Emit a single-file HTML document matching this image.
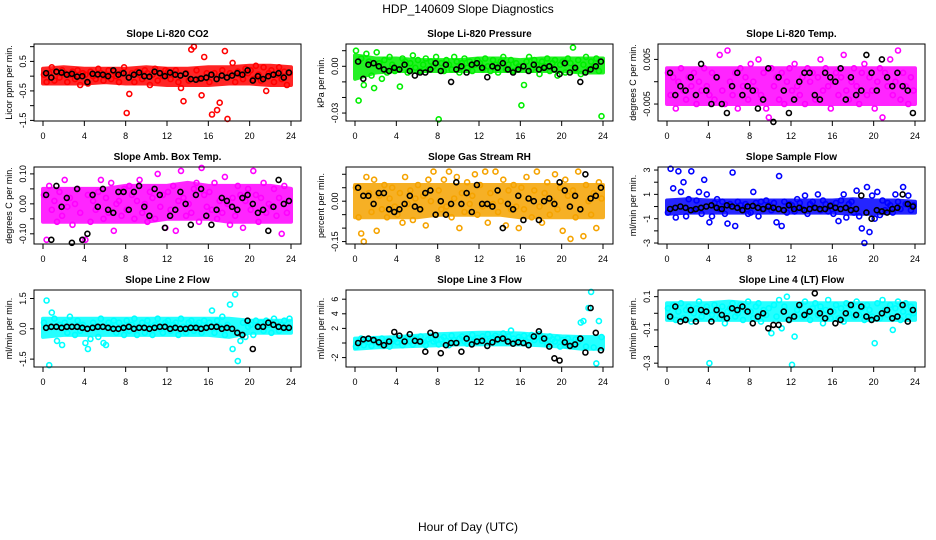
<!DOCTYPE html>
<html><head><meta charset="utf-8">
<style>
html,body{margin:0;padding:0;background:#fff;}
svg{display:block;font-family:"Liberation Sans",Arial,sans-serif;}
</style></head>
<body>
<svg id="chart" width="936" height="540" viewBox="0 0 936 540" xmlns="http://www.w3.org/2000/svg">
<text x="468" y="13" font-size="12" text-anchor="middle">HDP_140609  Slope Diagnostics</text>
<text x="468" y="531" font-size="12" text-anchor="middle">Hour of Day (UTC)</text>
</svg>
<script>
// ---- data (colored series sampled every 15 min, black every 30 min, dense band every 2 h) ----
const co2Vals = [0.05,-0.2,0.1,0.3,-0.15,0.12,-0.05,0.2,0.1,-0.2,0.05,0.15,-0.1,0.2,-0.3,0.1,0.05,-0.25,0.15,0.0,-0.1,0.25,0.1,-0.15,0.05,0.2,-0.1,0.15,0.0,-0.2,0.1,0.3,-1.25,-0.6,0.1,-0.2,0.15,0.05,-0.1,0.2,0.1,-0.3,0.05,0.25,-0.15,0.1,0.0,0.2,0.15,-0.1,0.05,0.2,-0.2,-0.4,-0.85,0.1,-0.15,0.9,1.0,0.2,-0.1,-0.65,0.65,0.1,-0.2,-1.3,0.1,-1.15,-0.9,0.2,0.85,-1.45,0.1,0.45,-0.2,0.15,0.05,-0.1,0.25,0.1,0.2,-0.1,0.35,0.05,-0.15,0.3,-0.5,0.1,0.2,-0.2,0.05,0.3,-0.1,0.15,-0.3,0.1];
const co2Black = [0.1,-0.05,0.15,0.12,0.05,0.08,-0.02,0.0,-0.2,0.08,0.06,0.05,0.0,0.2,0.05,0.1,-0.05,0.05,0.12,0.0,-0.02,0.15,0.1,0.0,0.12,0.05,0.02,0.08,-0.1,-0.12,-0.08,-0.05,0.05,-0.1,0.02,-0.05,0.02,0.1,0.05,0.2,-0.15,0.0,-0.1,0.0,0.05,0.1,-0.05,0.12];
const co2Lo = [-0.25,-0.25,-0.25,-0.2,-0.25,-0.25,-0.3,-0.3,-0.3,-0.25,-0.25,-0.3,-0.3];
const co2Hi = [0.25,0.3,0.25,0.25,0.25,0.3,0.25,0.25,0.3,0.3,0.35,0.35,0.3];
const pressMilli = [10,-22,5,-12,8,3,-6,-14,9,2,-8,4,-4,6,1,-3,-2,-13,5,3,-4,2,7,-1,4,-3,1,5,-2,3,0,6,-34,2,-3,4,1,-2,6,3,-4,2,5,-1,3,-3,1,4,2,-2,5,0,-3,4,1,-4,3,6,-2,1,4,-3,2,0,-25,-12,3,6,-2,4,1,-5,3,0,5,-3,2,4,-6,1,3,-4,5,2,12,-2,4,-5,1,6,-2,3,0,5,-3,-32];
const pressBlack = [3,-8,1,2,0,-2,-3,-1,-2,1,-3,-6,-4,-4,-2,2,-3,1,-10,-2,0,-4,1,2,-1,-7,0,-1,2,-2,-4,-2,0,-3,1,-2,-1,0,-2,-5,2,-4,-1,-10,-4,-2,0,3];
const pressLo = [-8,-4,-3,-3,-3,-3,-3,-3,-3,-3,-3,-4,-4];
const pressHi = [7,5,5,4,4,4,5,5,4,5,5,5,5];
const tempMilli = [2,-3,1,-6,0,3,-2,-4,1,-1,2,-5,0,-2,3,-1,-3,2,-4,1,6,-2,-5,7,0,-3,2,-6,3,-1,1,-4,4,0,-2,5,-3,2,-6,-8,3,-1,1,-4,2,-5,0,3,-2,4,-1,-3,1,-5,3,0,2,-4,1,5,-2,3,-1,-6,0,2,-3,1,6,-2,-4,0,3,-1,-5,2,4,-3,1,-2,-6,0,3,-8,2,-1,5,-3,0,7,-4,2,-1,-5,1,-2];
const tempBlack = [2,-3,-1,-2,1,-3,4,-2,-5,1,-5,-7,-1,2,-3,-1,-2,-6,-4,3,-9,1,-2,-7,-4,0,2,2,-3,-4,2,1,0,3,-4,1,-3,-2,6,2,-2,5,1,-1,2,-1,-2,-7];
const tempLo = [-5,-5,-5,-5,-5,-5,-5,-5,-5,-5,-5,-5,-5];
const tempHi = [3,3,3,3,3,3,3,3,3,3,3,3,3];
const ambCenti = [3,-12,6,-2,1,-6,4,-4,8,-1,2,-7,0,5,-3,-12,-12,3,-6,1,-2,4,8,-5,2,-3,7,-9,0,1,-4,5,-2,6,3,-5,1,8,-3,0,-6,4,2,-5,10,-1,3,-8,4,-2,6,-9,1,11,2,-4,0,-3,5,7,-6,12,3,-1,4,-2,7,-5,1,-3,9,0,-7,2,-4,6,3,-8,1,5,-2,11,3,-6,2,7,-3,0,-1,5,-4,2,-10,6,-3,1];
const ambBlack = [3,-12,6,-1,2,-13,5,-12,-10,3,-1,5,-2,-3,4,4,-2,4,6,-1,-4,5,3,-8,-4,-2,4,0,-7,3,5,-4,-7,-2,2,1,-1,-2,2,3,0,-3,-2,-9,-1,8,0,1];
const ambLo = [-6,-6,-6,-6,-6,-6,-5,-5,-5,-6,-6,-6,-6];
const ambHi = [5,5,5,5,6,6,6,7,6,6,6,6,5];
const rhCenti = [5,-6,-12,-15,9,3,-4,8,-11,2,-3,6,-6,1,5,-2,-5,3,-8,9,-1,4,-7,1,6,-3,2,-9,8,0,11,-5,4,-3,8,-2,11,-6,1,9,-10,3,-4,7,-1,2,10,-5,6,-2,11,-8,3,-1,11,-4,0,8,-9,4,-3,6,-2,-10,5,-3,9,1,-6,4,11,-2,-8,3,7,-5,0,10,-3,5,-11,8,2,-14,4,-6,11,-3,-13,6,0,-5,3,-10,7,1];
const rhBlack = [5,2,2,-1,3,3,-3,-4,-3,-1,2,-2,-3,3,4,-5,0,-5,-1,7,-1,3,-4,6,-1,-1,-2,4,-10,-1,-3,2,-7,1,0,-7,0,1,-1,7,4,-2,2,-3,10,1,2,5];
const rhLo = [-6,-6,-6,-6,-5,-5,-5,-5,-6,-6,-6,-6,-6];
const rhHi = [6,6,6,6,6,6,6,6,6,6,6,6,6];
const sampleVals = [-0.5,3.1,1.5,-0.9,2.9,1.2,2,-0.8,0.6,2.9,-0.3,0.5,1.2,-0.6,2.2,1.0,-1.3,-0.8,0.3,0.6,-0.2,0.4,-0.6,-1.4,0.2,2.8,-1.6,0.4,0.1,-0.3,0.2,-0.6,-0.5,1.2,0.3,-0.8,0.4,-0.2,0.5,0.1,-0.3,0.3,-1.3,2.5,-1.6,0.4,-0.5,0.2,0.1,-0.4,0.6,0.3,-0.2,0.9,-0.6,0.2,0.4,-0.1,1.0,-0.3,0.5,0.2,-0.4,0.1,-0.6,0.3,-1.2,0.5,1.0,-0.9,0.2,0.4,-0.5,1.3,-0.8,-1.8,-3.0,1.6,-2.1,0.9,-1.0,1.2,-0.7,0.5,-0.3,0.3,0.1,-0.5,1.0,0.4,-0.2,1.6,0.2,0.9,-0.3,0.1];
const sampleBlack = [-0.2,-0.1,0,-0.1,-0.3,-0.2,-0.1,0,0.1,-0.1,-0.2,0.1,0,-0.1,-0.3,0,0.05,-0.1,-0.2,0,-0.1,-0.2,-0.3,0.1,-0.2,-0.1,-0.3,-0.2,-0.1,-0.2,-0.2,0.05,-0.1,-0.2,-0.1,-0.3,-0.2,0.9,-0.5,-1.0,-0.3,-0.4,-0.5,-0.2,-0.1,1.0,0.2,0.0];
const sampleLo = [-0.6,-0.5,-0.5,-0.5,-0.5,-0.5,-0.5,-0.5,-0.5,-0.6,-0.6,-0.5,-0.5];
const sampleHi = [0.5,0.6,0.5,0.5,0.5,0.5,0.5,0.5,0.5,0.6,0.5,0.5,0.4];
const line2Vals = [0.3,1.4,-1.8,0.8,0.5,-0.6,0.2,-0.8,0.3,-0.2,0.6,0.1,-0.3,0.4,-0.1,0.2,-0.7,-1.0,-0.5,0.3,0.1,-0.4,0.5,-0.7,-0.8,0.3,0.1,0.4,-0.2,0.3,0.1,-0.3,0.4,-0.1,0.2,0.5,-0.3,0.1,0.3,-0.2,0.4,0.1,-0.3,0.2,0.5,0.0,-0.2,0.3,0.4,-0.1,0.2,0.3,-0.3,0.5,0.1,-0.2,0.3,0.4,-0.1,0.2,0.3,-0.2,0.4,0.1,0.3,0.9,-0.2,0.4,0.1,0.6,-0.3,0.2,1.2,-1.0,1.7,-1.6,-0.6,0.3,-0.4,0.1,0.2,-0.3,0.4,0.1,0.3,-0.1,0.4,0.2,-0.2,0.5,0.3,-0.1,0.2,0.4,0.0,0.5];
const line2Black = [0.05,0.1,0.1,0.05,0.1,0.1,0.1,0.05,0,0.05,0.1,0.1,0.05,0,0,0.05,0.1,0,0.05,0.05,0,0.05,0.1,0.1,0,0.05,0,0,0.05,0.05,0,0.05,0.1,0.1,0,0.05,0,-0.2,-0.3,0.4,-1.0,0.1,0.1,0.3,0.2,0.1,0.05,0.05];
const line2Lo = [-0.4,-0.3,-0.3,-0.3,-0.3,-0.3,-0.3,-0.3,-0.3,-0.4,-0.2,-0.2,-0.2];
const line2Hi = [0.5,0.5,0.5,0.5,0.5,0.5,0.5,0.5,0.5,0.5,0.4,0.4,0.4];
const line3Vals = [-0.5,0.2,0.6,-0.3,0.4,0.1,-0.4,0.5,0.2,-0.2,0.6,0,0.3,-0.5,0.2,0.5,0.1,0.6,-0.3,0.4,0.8,0.2,-0.2,0.6,0.3,0.9,0.1,-0.3,0.5,0.7,0.2,0.4,-0.2,0.5,0.8,0.3,-0.3,1.0,0.4,0.1,0.6,0.9,0.2,-0.1,0.5,1.1,0.3,0.7,0.2,0.9,0.5,1.2,0.3,0.7,1.0,0.4,0.8,1.3,0.5,0.9,1.7,0.6,0.3,0.8,0.5,1.0,0.2,0.7,1.1,0.4,0.8,1.2,0.3,0.6,-0.2,0.9,0.5,0.2,0.7,-0.5,0.4,-0.3,0.6,0.1,-0.4,0.5,0.2,2.8,3.0,-0.5,4.8,7.0,-0.6,-2.8,3.0,0.8];
const line3Black = [0,0.5,0.6,0.4,0.1,-0.3,0.2,1.5,1.0,0.2,1.2,0.3,0.2,-1.2,1.4,1.1,-1.4,-0.3,0,0,-1.2,0.6,-0.2,0.2,0.3,-0.4,0.1,0.5,0.6,0.2,-0.1,0.1,0,-0.3,0.9,1.6,0.6,-0.5,-2.1,-2.4,0.1,-0.4,-0.2,0.6,-1.3,4.8,1.4,-1.0];
const line3Lo = [-0.8,-0.6,-0.5,-0.4,-0.3,-0.2,-0.2,-0.2,-0.2,-0.3,-0.5,-0.8,-0.8];
const line3Hi = [0.6,0.7,0.8,1.0,1.2,1.3,1.4,1.4,1.3,1.1,0.9,0.8,0.8];
const line4Centi = [3,-2,5,-4,1,6,-3,2,4,-5,0,3,7,-2,1,4,-30,-1,5,2,-3,4,-6,1,3,6,-2,0,5,-4,2,7,1,-3,4,6,-5,2,-1,3,-12,5,-2,8,-9,4,10,-4,-31,-14,2,5,-2,7,0,-4,3,6,-1,4,-6,2,8,-3,1,5,-3,3,-5,6,0,4,-2,7,-1,3,-4,5,2,-2,-18,6,-3,8,2,-1,5,-10,3,7,-4,1,6,-2,4,0];
const line4Black = [-2,4,-5,-4,2,-5,2,1,-5,2,-1,-3,3,2,4,1,-6,-2,0,-9,-7,-7,1,-4,-2,5,-1,1,12,0,-3,1,-6,-4,0,5,-1,4,-2,-4,-3,0,2,-3,-2,5,-5,2];
const line4Lo = [-4,-4,-4,-4,-4,-4,-4,-4,-4,-4,-4,-4,-4];
const line4Hi = [6,6,6,7,6,6,6,6,6,6,6,6,6];
const xTicks = [0,4,8,12,16,20,24];

const NS = "http://www.w3.org/2000/svg";
const svg = document.getElementById('chart');
function mk(tag, attrs, parent){ const e=document.createElementNS(NS,tag); for(const k in attrs) e.setAttribute(k,attrs[k]); (parent||svg).appendChild(e); return e; }

const panels = [
 {name:'co2',title:'Slope Li-820 CO2',ylab:'Licor ppm per min.',col:0,row:0,color:'#ff0000',vals:co2Vals,blk:co2Black,lo:co2Lo,hi:co2Hi,ymax:1.09,ymin:-1.52,ticks:[1,0.5,0,-0.5,-1,-1.5],labels:{'0.5':'0.5','-0.5':'-0.5','-1.5':'-1.5'}},
 {name:'pressure',title:'Slope Li-820 Pressure',ylab:'kPa per min.',col:1,row:0,color:'#00ee00',vals:pressMilli,blk:pressBlack,lo:pressLo,hi:pressHi,ymax:14.3,ymin:-35.1,ticks:[10,0,-10,-20,-30],labels:{'0':'0.00','-30':'-0.03'}},
 {name:'temp',title:'Slope Li-820 Temp.',ylab:'degrees C per min.',col:2,row:0,color:'#ff00ff',vals:tempMilli,blk:tempBlack,lo:tempLo,hi:tempHi,ymax:8.45,ymin:-8.8,ticks:[5,0,-5],labels:{'5':'0.005','-5':'-0.005'}},
 {name:'amb-temp',title:'Slope Amb. Box Temp.',ylab:'degrees C per min.',col:0,row:1,color:'#ff00ff',vals:ambCenti,blk:ambBlack,lo:ambLo,hi:ambHi,ymax:12.3,ymin:-13.4,ticks:[10,5,0,-5,-10],labels:{'10':'0.10','0':'0.00','-10':'-0.10'}},
 {name:'rh',title:'Slope Gas Stream RH',ylab:'percent per min.',col:1,row:1,color:'#f5a300',vals:rhCenti,blk:rhBlack,lo:rhLo,hi:rhHi,ymax:12.7,ymin:-15.9,ticks:[10,5,0,-5,-10,-15],labels:{'0':'0.00','-15':'-0.15'}},
 {name:'sample-flow',title:'Slope Sample Flow',ylab:'ml/min per min.',col:2,row:1,color:'#0000ff',vals:sampleVals,blk:sampleBlack,lo:sampleLo,hi:sampleHi,ymax:3.25,ymin:-3.08,ticks:[3,2,1,0,-1,-2,-3],labels:{'3':'3','1':'1','-1':'-1','-3':'-3'}},
 {name:'line2-flow',title:'Slope Line 2 Flow',ylab:'ml/min per min.',col:0,row:2,color:'#00ffff',vals:line2Vals,blk:line2Black,lo:line2Lo,hi:line2Hi,ymax:1.92,ymin:-1.89,ticks:[1.5,0,-1.5],labels:{'1.5':'1.5','0':'0.0','-1.5':'-1.5'}},
 {name:'line3-flow',title:'Slope Line 3 Flow',ylab:'ml/min per min.',col:1,row:2,color:'#00ffff',vals:line3Vals,blk:line3Black,lo:line3Lo,hi:line3Hi,ymax:7.26,ymin:-3.29,ticks:[6,4,2,0,-2],labels:{'6':'6','4':'4','2':'2','-2':'-2'}},
 {name:'line4-flow',title:'Slope Line 4 (LT) Flow',ylab:'ml/min per min.',col:2,row:2,color:'#00ffff',vals:line4Centi,blk:line4Black,lo:line4Lo,hi:line4Hi,ymax:14.0,ymin:-32.3,ticks:[10,0,-10,-20,-30],labels:{'10':'0.1','-10':'-0.1','-30':'-0.3'}}
];
const colLeft=[34,346,658], rowTop=[44,167,290], W=267, H=77;

panels.forEach(p=>{
  const L=colLeft[p.col], T=rowTop[p.row];
  const g=mk('g',{});
  
  
  const xs=h=>L+9+h*(248/24);
  const ys=v=>T+(p.ymax-v)/(p.ymax-p.ymin)*H;
  const t=mk('text',{x:L+W/2,y:T-7,'font-size':10,'font-weight':'bold','text-anchor':'middle'},g);
  t.textContent=p.title;
  
  
  // dense band of overlapping points
  const pts=[];
  p.hi.forEach((v,i)=>pts.push(xs(i*2).toFixed(1)+','+ys(v).toFixed(1)));
  for(let i=p.lo.length-1;i>=0;i--) pts.push(xs(i*2).toFixed(1)+','+ys(p.lo[i]).toFixed(1));
  const band=mk('polygon',{points:pts.join(' '),fill:p.color,stroke:p.color,'stroke-width':4,'stroke-linejoin':'round',opacity:0.85},g);
  
  
  // colored points
  const cg=mk('g',{fill:'none',stroke:p.color,'stroke-width':1.6},g);
  
  
  p.vals.forEach((v,i)=>{
    const h=i*0.25+0.1;
    const c=mk('circle',{cx:xs(h).toFixed(1),cy:ys(v).toFixed(1),r:2.5},cg);
    
    
  });
  const bg=mk('g',{fill:'none',stroke:'#000','stroke-width':1.6},g);
  
  
  p.blk.forEach((v,i)=>{
    const h=i*0.5+0.3;
    const c=mk('circle',{cx:xs(h).toFixed(1),cy:ys(v).toFixed(1),r:2.5},bg);
    
    
  });
  // box
  const r=mk('rect',{x:L,y:T,width:W,height:H,fill:'none',stroke:'#000','stroke-width':1},g);
  
  
  // x axis
  xTicks.forEach(h=>{
    const x=xs(h);
    mk('line',{x1:x,x2:x,y1:T+H,y2:T+H+5,stroke:'#000'},g);
    const tl=mk('text',{x:x,y:T+H+18,'font-size':9,'text-anchor':'middle'},g);
    tl.textContent=h;
    
    
  });
  // y axis
  p.ticks.forEach(v=>{
    const y=ys(v);
    mk('line',{x1:L-4,x2:L,y1:y,y2:y,stroke:'#000'},g);
    const lab=p.labels[String(v)];
    if(lab!==undefined){
      const yl=mk('text',{x:0,y:0,'font-size':9,'text-anchor':'middle',transform:`translate(${L-8},${y}) rotate(-90)`},g);
      yl.textContent=lab;
      
      
    }
  });
  const yt=mk('text',{x:0,y:0,'font-size':9,'text-anchor':'middle',transform:`translate(${L-22},${T+H/2}) rotate(-90)`},g);
  yt.textContent=p.ylab;
  
  
});
</script>
</body></html>
